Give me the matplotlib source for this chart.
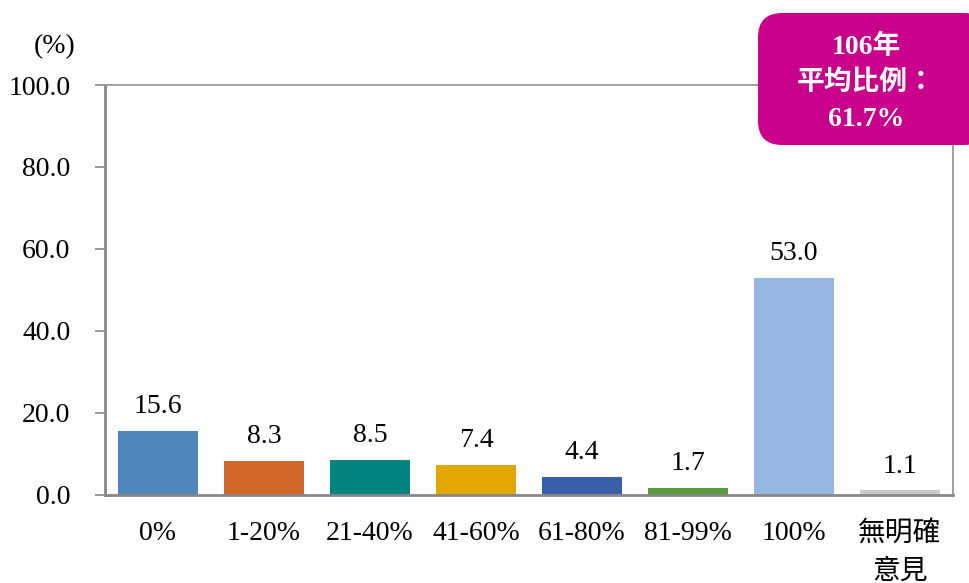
import matplotlib
matplotlib.use('Agg')
import matplotlib.pyplot as plt
from matplotlib.patches import FancyBboxPatch

plt.rcParams['font.family'] = ['Liberation Serif', 'Noto Sans CJK TC']

categories = ['0%', '1-20%', '21-40%', '41-60%', '61-80%', '81-99%', '100%', '無明確\n意見']
values = [15.6, 8.3, 8.5, 7.4, 4.4, 1.7, 53.0, 1.1]
colors = ['#4F87BC', '#D2692A', '#00827F', '#E2A800', '#3A5FA8', '#5A9A3A', '#96B8E0', '#C8C8C8']
yticks = [0, 20, 40, 60, 80, 100]

fig = plt.figure(figsize=(9.69, 5.83), dpi=100)
ax = fig.add_axes([105 / 969, 88 / 583, 848 / 969, 410 / 583])

x = list(range(len(categories)))
ax.bar(x, values, width=0.755, color=colors, zorder=2)
for xi, v in zip(x, values):
    ax.text(xi, v + 5.9, f'{v:.1f}', ha='center', va='center', fontsize=20)

ax.set_xlim(-0.5, len(categories) - 0.5)
ax.set_ylim(0, 100)
ax.set_yticks(yticks)
ax.set_yticklabels([f'{t:.1f}' for t in yticks], fontsize=20)
ax.set_xticks(x)
ax.set_xticklabels(categories, fontsize=20, linespacing=1.6, va='top')
ax.tick_params(axis='x', length=0, pad=19)
ax.tick_params(axis='y', length=7, width=1.2, color='#888888', pad=18)
for s in ax.spines.values():
    s.set_color('#999999')
    s.set_linewidth(1.3)
ax.spines['left'].set_color('#888888')
ax.spines['bottom'].set_color('#888888')
ax.spines['left'].set_linewidth(2)
ax.spines['bottom'].set_linewidth(2)

fig.text(55 / 969, 1 - 47 / 583, '(%)', ha='center', va='center', fontsize=20)

box = FancyBboxPatch((758 / 969, 1 - 145 / 583), 230 / 969, 132 / 583,
                     boxstyle='round,pad=0,rounding_size=0.025',
                     transform=fig.transFigure, facecolor='#C8008C',
                     edgecolor='none', zorder=5, mutation_aspect=969 / 583)
fig.patches.append(box)
fig.text(866 / 969, 1 - 83 / 583, '106年\n平均比例：\n61.7%', ha='center', va='center',
         fontsize=20, fontweight='bold', color='white', linespacing=1.55, zorder=6)

fig.savefig('out.png', dpi=100)
